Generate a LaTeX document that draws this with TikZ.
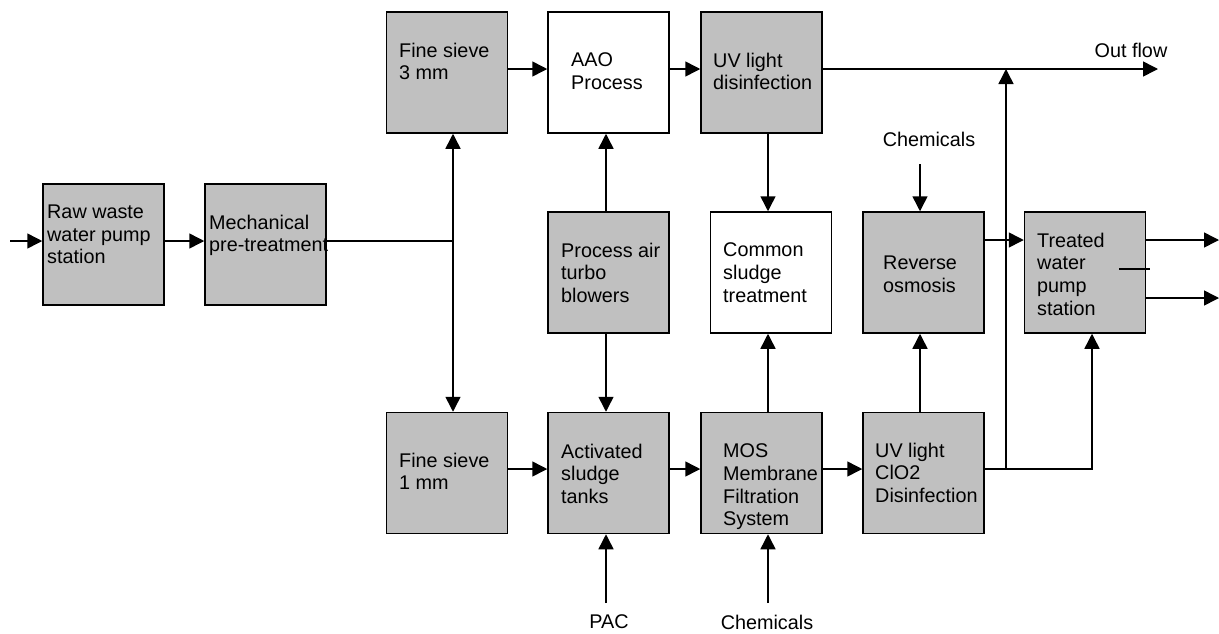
\documentclass[tikz,border=0pt]{standalone}
\usepackage{fontspec}
\setmainfont{Liberation Sans}
\usetikzlibrary{arrows.meta}
\definecolor{boxgray}{HTML}{C0C0C0}
\tikzset{
  stage/.style={draw, line width=1.5pt, fill=boxgray, minimum width=121pt,
    minimum height=121pt, inner sep=0pt},
  plainstage/.style={stage, fill=white},
  lbl/.style={anchor=north west, inner sep=0pt, align=left,
    font=\fontsize{19.8}{22.8}\selectfont},
  tag/.style={inner sep=0pt, font=\fontsize{19.8}{22.8}\selectfont},
  flow/.style={line width=1.5pt, -{Triangle[length=15pt,width=15pt]}},
  pipe/.style={line width=1.5pt}
}
\begin{document}
\begin{tikzpicture}[x=1pt, y=-1pt]
\useasboundingbox (0,0) rectangle (1219,633);

% process stages
\node[stage]      (raw)  at (103.5,244.5) {};
\node[stage]      (mech) at (265.5,244.5) {};
\node[stage]      (fs3)  at (447,72.5)    {};
\node[plainstage] (aao)  at (608.5,72.5)  {};
\node[stage]      (uv1)  at (761.5,72.5)  {};
\node[stage]      (blow) at (608.5,272.5) {};
\node[plainstage] (csl)  at (771,272.5)   {};
\node[stage]      (ro)   at (923.5,272.5) {};
\node[stage]      (tw)   at (1085,272.5)  {};
\node[stage]      (fs1)  at (447,473)     {};
\node[stage]      (act)  at (608.5,473)   {};
\node[stage]      (mos)  at (761.5,473)   {};
\node[stage]      (uv2)  at (923.5,473)   {};

% stage texts
\node[lbl] (traw)  at (47,204.5)   {Raw waste\\water pump\\station};
\node[lbl] (tmech) at (209,214.5)  {Mechanical\\pre-treatment};
\node[lbl] (tfs3)  at (399,42.5)   {Fine sieve\\3 mm};
\node[lbl] (taao)  at (571,52.5)   {AAO\\Process};
\node[lbl] (tuv1)  at (713,52.5)   {UV light\\disinfection};
\node[lbl] (tblow) at (561,242.5)  {Process air\\turbo\\blowers};
\node[lbl] (tcsl)  at (723,242.5)  {Common\\sludge\\treatment};
\node[lbl] (tro)   at (883,255.5)  {Reverse\\osmosis};
\node[lbl] (ttw)   at (1037,232.5) {Treated\\water\\pump\\station};
\node[lbl] (tfs1)  at (399,452.5)  {Fine sieve\\1 mm};
\node[lbl] (tact)  at (561,443.5)  {Activated\\sludge\\tanks};
\node[lbl] (tmos)  at (723,443.5)  {MOS\\Membrane\\Filtration\\System};
\node[lbl] (tuv2)  at (875,442.5)  {UV light\\ClO2\\Disinfection};

% free labels
\node[tag] (outlbl) at (1131,50)  {Out flow};
\node[tag] (chtop)  at (929,139)  {Chemicals};
\node[tag] (pac)    at (609,622)  {PAC};
\node[tag] (chbot)  at (767,622)  {Chemicals};

% reference coordinates for connector lines
\coordinate (in)   at (10,241);
\coordinate (j)    at (453,241);
\coordinate (ytop) at (0,69);
\coordinate (ybot) at (0,469);
\coordinate (xb)   at (606,0);
\coordinate (xs)   at (768,0);
\coordinate (xr)   at (920,0);
\coordinate (xt)   at (1092,0);
\coordinate (out)  at (1158,69);
\coordinate (rise) at (1006,469);
\coordinate (chsrc) at (920,164);
\coordinate (pacsrc) at (606,603);
\coordinate (chbsrc) at (768,603);
\coordinate (ya)   at (0,240);
\coordinate (o1)   at (1219,240);
\coordinate (o2)   at (1219,298);
\coordinate (m1)   at (1119,269);
\coordinate (m2)   at (1150,269);

% inflow and pre-treatment
\draw[flow] (in) -- (raw.west |- in);
\draw[flow] (raw.east |- in) -- (mech.west |- in);
\draw[pipe] (mech.east |- in) -- (j);
\draw[flow] (j) -- (j |- fs3.south);
\draw[flow] (j) -- (j |- fs1.north);

% upper line
\draw[flow] (fs3.east |- ytop) -- (aao.west |- ytop);
\draw[flow] (aao.east |- ytop) -- (uv1.west |- ytop);
\draw[flow] (uv1.east |- ytop) -- (out);
\draw[flow] (uv1.south -| xs) -- (csl.north -| xs);
\draw[flow] (blow.north -| xb) -- (aao.south -| xb);
\draw[flow] (blow.south -| xb) -- (act.north -| xb);

% lower line
\draw[flow] (fs1.east |- ybot) -- (act.west |- ybot);
\draw[flow] (act.east |- ybot) -- (mos.west |- ybot);
\draw[flow] (mos.east |- ybot) -- (uv2.west |- ybot);
\draw[flow] (mos.north -| xs) -- (csl.south -| xs);
\draw[flow] (pacsrc) -- (act.south -| pacsrc);
\draw[flow] (chbsrc) -- (mos.south -| chbsrc);

% polishing and treated water
\draw[flow] (uv2.north -| xr) -- (ro.south -| xr);
\draw[flow] (chsrc) -- (ro.north -| chsrc);
\draw[flow] (ro.east |- ya) -- (tw.west |- ya);
\draw[flow] (uv2.east |- ybot) -| (tw.south -| xt);
\draw[flow] (rise) -- (rise |- ytop);
\draw[flow] (tw.east |- o1) -- (o1);
\draw[flow] (tw.east |- o2) -- (o2);
\draw[pipe] (m1) -- (m2);
\end{tikzpicture}
\end{document}
